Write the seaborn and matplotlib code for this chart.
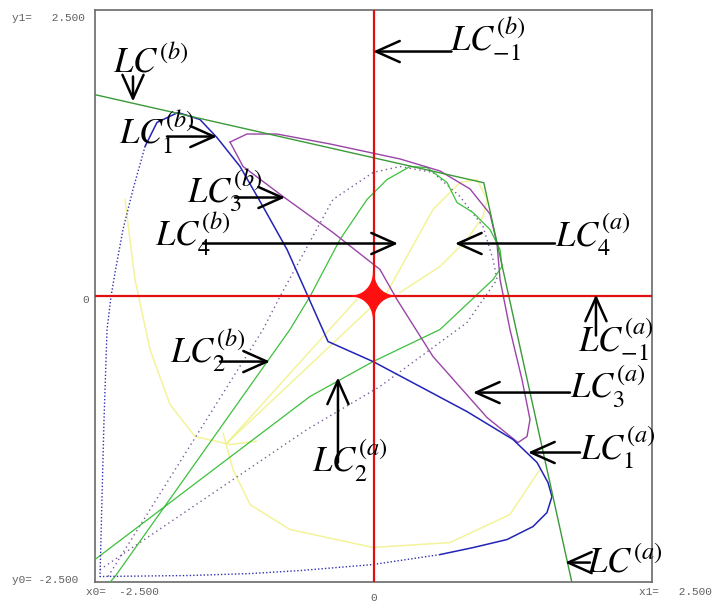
import numpy as np
import pandas as pd
import matplotlib
matplotlib.use("Agg")
import matplotlib.pyplot as plt
import seaborn as sns

# ---- critical curves (x, y) in the window [-2.5, 2.5] x [-2.5, 2.5] ----
# LC(a) / LC(b): the outer polygonal boundary
lc_bound_x = [-2.5, 0.99, 1.78]
lc_bound_y = [1.76, 0.99, -2.5]

# LC1: solid upper/right part of the loop
lc1_x = [-2.051, -1.944, -1.755, -1.558, -1.405, -1.198, -0.992, -0.776, -0.588,
         -0.408, -0.004, 0.417, 0.839, 1.252, 1.468, 1.566, 1.602, 1.557, 1.432,
         1.198, 0.894, 0.597]
lc1_y = [1.307, 1.517, 1.604, 1.543, 1.385, 1.132, 0.782, 0.406, -0.004,
         -0.398, -0.573, -0.791, -1.010, -1.254, -1.455, -1.630, -1.753, -1.893,
         -2.015, -2.129, -2.199, -2.260]
# LC1: sparse (dotted) bottom and left part
lc1_dot_x = [0.597, -0.004, -0.660, -1.108, -1.647, -2.455, -2.437, -2.419,
             -2.392, -2.356, -2.320, -2.249, -2.159, -2.051]
lc1_dot_y = [-2.260, -2.347, -2.400, -2.426, -2.443, -2.452, -1.753, -1.080,
             -0.293, -0.004, 0.205, 0.581, 0.931, 1.307]

# LC3: closed loop
lc3_x = [-1.288, -1.136, -0.866, -0.390, 0.238, 0.597, 0.866, 1.046, 1.109,
         1.136, 1.225, 1.333, 1.405, 1.378, 1.297, 1.019, 0.534, 0.211, 0.058,
         -0.364, -0.812, -1.171, -1.288]
lc3_y = [1.346, 1.416, 1.416, 1.329, 1.198, 1.093, 0.936, 0.717, 0.455,
         0.144, -0.293, -0.730, -1.080, -1.228, -1.281, -1.062, -0.529, -0.031,
         0.232, 0.555, 0.870, 1.132, 1.346]
# LC3 companion arc (dotted)
lc3_dot_x = [-2.383, -0.992, -0.839, -0.364, -0.004, 0.238, 0.534, 0.776,
             0.983, 1.073, 1.109, 0.839, 0.058, -0.597, -2.096, -2.455]
lc3_dot_y = [-2.452, -0.293, -0.004, 0.844, 1.080, 1.132, 1.080, 0.870,
             0.608, 0.319, 0.144, -0.232, -0.791, -1.167, -2.155, -2.391]

# LC2
lc2_x = [-2.5, -0.570, -0.004, 0.597, 1.073, 1.154, 1.136, 1.046, 0.893, 0.750,
         0.660, 0.480, 0.328, 0.121, -0.058, -0.301, -0.570, -0.750, -2.320, -2.41]
lc2_y = [-2.303, -0.878, -0.573, -0.293, 0.144, 0.258, 0.406, 0.581, 0.730, 0.817,
         0.992, 1.123, 1.132, 1.018, 0.844, 0.494, -0.004, -0.293, -2.452, -2.55]

# LC4: faint curves
lc4_drop_x = [0.121, 0.534, 0.776, 0.929, 1.019, 0.983, 0.839, 0.597, 0.238]
lc4_drop_y = [0.031, 0.756, 0.992, 1.018, 0.844, 0.695, 0.494, 0.258, 0.031]
lc4_left_x = [-2.231, -2.141, -2.006, -1.827, -1.602, -1.288, -1.05]
lc4_left_y = [0.844, 0.144, -0.468, -0.948, -1.228, -1.298, -1.27]
lc4_low_x = [-1.35, -1.261, -1.108, -0.750, -0.004, 0.687, 1.225, 1.494]
lc4_low_y = [-1.20, -1.517, -1.823, -2.041, -2.198, -2.155, -1.910, -1.517]
lc4_ray1_x = [-1.31, -0.15]
lc4_ray1_y = [-1.28, -0.03]
lc4_ray2_x = [-1.31, 0.12]
lc4_ray2_y = [-1.28, 0.03]

# curve labels: text, text anchor, arrow tail, arrow tip
labels = [
    (r"$LC^{(b)}$",      (-2.338, 1.953), (-2.159, 1.919), (-2.159, 1.700)),
    (r"$LC_1^{(b)}$",    (-2.285, 1.324), (-1.854, 1.394), (-1.405, 1.394)),
    (r"$LC_3^{(b)}$",    (-1.674, 0.817), (-1.243, 0.861), (-0.794, 0.861)),
    (r"$LC_4^{(b)}$",    (-1.961, 0.433), (-1.530, 0.459), (0.220, 0.459)),
    (r"$LC_{-1}^{(b)}$", (0.687, 2.137),  (0.700, 2.137),  (-0.004, 2.137)),
    (r"$LC_4^{(a)}$",    (1.629, 0.433),  (1.629, 0.459),  (0.731, 0.459)),
    (r"$LC_{-1}^{(a)}$", (1.836, -0.485), (1.997, -0.345), (1.997, 0.013)),
    (r"$LC_3^{(a)}$",    (1.764, -0.896), (1.764, -0.844), (0.893, -0.844)),
    (r"$LC_1^{(a)}$",    (1.854, -1.429), (1.854, -1.368), (1.387, -1.368)),
    (r"$LC^{(a)}$",      (1.916, -2.413), (1.943, -2.330), (1.719, -2.330)),
    (r"$LC_2^{(b)}$",    (-1.827, -0.582), (-1.378, -0.573), (-0.929, -0.573)),
    (r"$LC_2^{(a)}$",    (-0.552, -1.543), (-0.319, -1.455), (-0.319, -0.712)),
]

sns.set_theme(style="white")
plt.rcParams["mathtext.fontset"] = "stix"
plt.rcParams["font.family"] = ["DejaVu Sans"]

fig = plt.figure(figsize=(7.23, 6.03), dpi=100)
ax = fig.add_axes([0.1314, 0.0348, 0.7704, 0.9486])
ax.set_xlim(-2.5, 2.5)
ax.set_ylim(-2.5, 2.5)


def curve(xs, ys, color, lw=0.9, ls="-", alpha=1.0, z=2):
    df = pd.DataFrame({"x": xs, "y": ys})
    sns.lineplot(data=df, x="x", y="y", sort=False, estimator=None, ax=ax,
                 color=color, linewidth=lw, linestyle=ls, alpha=alpha, zorder=z)


yellow = "#eeee70"
for xs, ys in [(lc4_drop_x, lc4_drop_y), (lc4_left_x, lc4_left_y),
               (lc4_low_x, lc4_low_y), (lc4_ray1_x, lc4_ray1_y),
               (lc4_ray2_x, lc4_ray2_y)]:
    curve(xs, ys, yellow, lw=1.1, alpha=0.7, z=1)

curve(lc3_dot_x, lc3_dot_y, "#7a5a9a", lw=1.0, ls=(0, (1, 2.5)), z=2)
curve(lc2_x, lc2_y, "#3cc03c", lw=0.9, z=3)
curve(lc3_x, lc3_y, "#9a44a8", lw=1.0, z=3)
curve(lc1_dot_x, lc1_dot_y, "#3030b0", lw=1.0, ls=(0, (1, 1.5)), z=3)
curve(lc1_x, lc1_y, "#2323b8", lw=1.1, z=4)
curve(lc_bound_x, lc_bound_y, "#3a9a3a", lw=1.0, z=4)

# red axes with the star at the origin
ax.axhline(0, color="#e01010", lw=1.6, zorder=5)
ax.axvline(0, color="#e01010", lw=1.6, zorder=5)
t = np.linspace(0, 2 * np.pi, 600)
c, s = np.cos(t), np.sin(t)
ax.fill(0.20 * np.sign(c) * np.abs(c) ** 3.6, 0.21 * np.sign(s) * np.abs(s) ** 3.6,
        color="#ff1010", zorder=6, lw=0.8, edgecolor="#ff1010")

for text, pos, tail, tip in labels:
    ax.text(pos[0], pos[1], text, fontsize=25, ha="left", va="baseline",
            color="black", zorder=8)
    ax.annotate("", xy=tip, xytext=tail, zorder=7,
                arrowprops=dict(arrowstyle="->,head_length=0.85,head_width=0.38",
                                mutation_scale=20, lw=1.8, color="black",
                                shrinkA=0, shrinkB=0))

ax.set_xticks([])
ax.set_yticks([])
ax.set_xlabel("")
ax.set_ylabel("")
for sp in ax.spines.values():
    sp.set_color("#6a6a6a")
    sp.set_linewidth(1.2)

# window readout
W, H = 723.0, 603.0
mono = dict(family="Liberation Mono", fontsize=8, color="#606060")
fig.text(12 / W, 1 - 18 / H, "y1=   2.500", ha="left", va="center", **mono)
fig.text(12 / W, 1 - 580 / H, "y0= -2.500", ha="left", va="center", **mono)
fig.text(86 / W, 1 - 300 / H, "0", ha="center", va="center", **mono)
fig.text(86 / W, 1 - 592 / H, "x0=  -2.500", ha="left", va="center", **mono)
fig.text(373.5 / W, 1 - 598 / H, "0", ha="center", va="center", **mono)
fig.text(639 / W, 1 - 592 / H, "x1=   2.500", ha="left", va="center", **mono)

fig.savefig("out.png", dpi=100)
